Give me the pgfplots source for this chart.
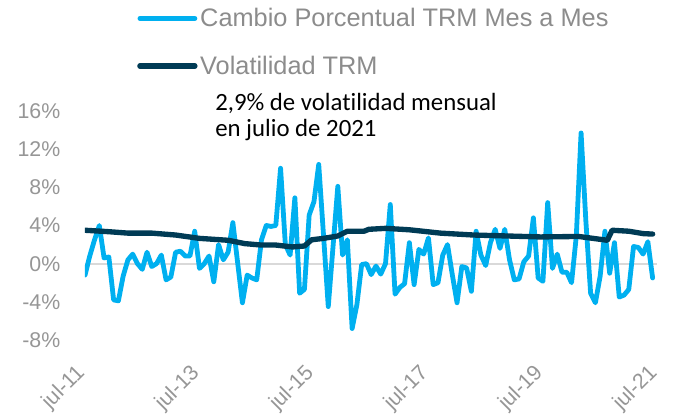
\documentclass[border=0pt]{standalone}
\usepackage{pgfplots}
\pgfplotsset{compat=1.18}
\usepackage{fontspec}
\setmainfont{Liberation Sans}
\newfontfamily\carlito[Ligatures=NoCommon]{Carlito}

\definecolor{trmblue}{RGB}{0,176,240}
\definecolor{trmdark}{RGB}{0,59,85}
\definecolor{ticktxt}{RGB}{150,150,150}
\definecolor{legtxt}{RGB}{140,140,140}
\definecolor{zeroline}{RGB}{217,217,217}

\pgfplotstableread{
m v
0 -1.2
1 0.8
2 2.5
3 4.0
4 0.6
5 0.7
6 -3.8
7 -3.9
8 -1.3
9 0.4
10 1.0
11 0.0
12 -0.6
13 1.2
14 -0.3
15 0.0
16 0.9
17 -1.7
18 -1.4
19 1.2
20 1.3
21 0.8
22 0.8
23 3.4
24 -0.5
25 0.0
26 0.8
27 -1.9
28 2.0
29 0.4
30 1.2
31 4.3
32 0.1
33 -4.1
34 -1.2
35 -1.5
36 -1.7
37 2.5
38 4.0
39 3.9
40 4.0
41 10.0
42 2.0
43 0.9
44 6.9
45 -3.1
46 -2.7
47 5.1
48 6.5
49 10.4
50 3.0
51 -4.5
52 1.8
53 8.1
54 0.9
55 2.5
56 -6.8
57 -4.3
58 -0.1
59 0.0
60 -1.15
61 -0.25
62 -1.1
63 0.0
64 6.2
65 -3.2
66 -2.5
67 -2.1
68 2.2
69 -2.2
70 1.5
71 1.0
72 2.7
73 -2.2
74 -2.0
75 0.9
76 2.0
77 -1.15
78 -4.1
79 -0.3
80 -0.45
81 -2.9
82 3.4
83 0.9
84 -0.2
85 2.2
86 3.6
87 1.6
88 3.6
89 0.4
90 -1.7
91 -1.6
92 0.2
93 0.8
94 4.8
95 -1.5
96 -1.85
97 6.4
98 -0.5
99 1.0
100 -0.9
101 -0.9
102 -2.0
103 2.9
104 13.7
105 4.5
106 -3.1
107 -4.1
108 -1.3
109 3.4
110 -1.0
111 2.2
112 -3.5
113 -3.3
114 -2.7
115 1.8
116 1.7
117 1.0
118 2.3
119 -1.5
}\cambio

\pgfplotstableread{
m v
0 3.5
5 3.35
9 3.2
14 3.2
19 3.0
24 2.65
30 2.45
33.5 2.1
37 1.95
40 1.95
43.5 1.75
46 1.85
47.5 2.5
50 2.65
53 2.9
55 3.4
58.5 3.4
59.5 3.6
63 3.7
68 3.55
74.5 3.2
81.5 3.0
88.5 2.9
95.5 2.8
103.5 2.85
109.5 2.45
110.5 3.5
114 3.4
117 3.15
119 3.1
}\volat

\begin{document}
\begin{tikzpicture}
\useasboundingbox (0,0) rectangle (507pt,312pt);
\begin{axis}[
    at={(63.75pt,57pt)}, anchor=south west,
    width=429.3pt, height=171.75pt, scale only axis,
    xmin=0, xmax=120, ymin=-8, ymax=16,
    axis line style={draw=none},
    tick style={draw=none},
    major tick length=0pt,
    xtick={0,24,48,72,96,120},
    xticklabels={jul-11,jul-13,jul-15,jul-17,jul-19,jul-21},
    ytick={-8,-4,0,4,8,12,16},
    yticklabels={-8\%,-4\%,0\%,4\%,8\%,12\%,16\%},
    ticklabel style={font=\fontsize{16}{19}\selectfont, text=ticktxt},
    yticklabel style={anchor=east, xshift=-15pt},
    xticklabel style={yshift=-20pt, rotate=45, anchor=east},
    extra y ticks={0},
    extra y tick labels={},
    extra y tick style={grid=major, major grid style={draw=zeroline, line width=1.5pt}},
    legend style={
        at={(0.0908,1.4614)}, anchor=north west,
        draw=none, fill=none, inner sep=0pt,
        font=\fontsize{19}{22}\selectfont, text=legtxt,
        row sep=16.5pt,
        /tikz/every even column/.append style={column sep=0pt},
    },
    legend cell align=left,
    legend image code/.code={\draw[#1, line cap=round] (0pt,0pt) -- (41.25pt,0pt);},
]
\addplot[trmblue, line width=3.6pt, line join=round, line cap=round] table[x=m, y=v] {\cambio};
\addlegendentry{Cambio Porcentual TRM Mes a Mes}
\addplot[trmdark, line width=4pt, line join=round, line cap=round] table[x=m, y=v] {\volat};
\addlegendentry{Volatilidad TRM}
\end{axis}
\node[anchor=base west, inner sep=0pt, font=\carlito\fontsize{18.6}{20}\selectfont] at (161.25pt,228.75pt) {2,9\% de volatilidad mensual};
\node[anchor=base west, inner sep=0pt, font=\carlito\fontsize{18.6}{20}\selectfont] at (161.25pt,209.25pt) {en julio de 2021};
\end{tikzpicture}
\end{document}
